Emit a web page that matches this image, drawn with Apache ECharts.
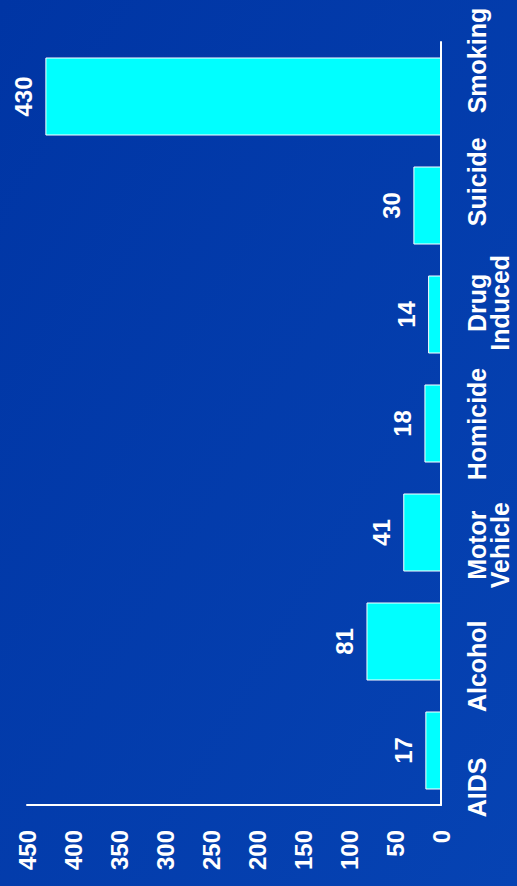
<!DOCTYPE html>
<html>
<head>
<meta charset="utf-8">
<script src="https://cdn.jsdelivr.net/npm/echarts@6/dist/echarts.min.js"></script>
<style>
html,body{margin:0;padding:0;background:#0038a8;}
#chart{width:517px;height:886px;}
</style>
</head>
<body>
<div id="chart"></div>
<script>
var categories = ['AIDS', 'Alcohol', 'Motor\nVehicle', 'Homicide', 'Drug\nInduced', 'Suicide', 'Smoking'];
var deaths = [17, 81, 41, 18, 14, 30, 430];
var valueMin = 0, valueMax = 450, valueStep = 50;

var FONT = "'Liberation Sans', Arial, sans-serif";
var chart = echarts.init(document.getElementById('chart'), null, {renderer: 'svg'});
chart.setOption({
  animation: false,
  backgroundColor: {
    type: 'linear', x: 0, y: 0, x2: 1, y2: 1,
    colorStops: [{offset: 0, color: '#0035a4'}, {offset: 1, color: '#0643b3'}]
  },
  grid: [
    {left: 27, right: 76, top: 42, bottom: 81},
    {left: 27, right: 76, top: 0, height: 848}
  ],
  xAxis: [
    {
      type: 'value', gridIndex: 0, min: valueMin, max: valueMax, interval: valueStep,
      inverse: true, position: 'bottom',
      axisLine: {show: true, lineStyle: {color: '#ffffff', width: 2}},
      axisTick: {show: false},
      splitLine: {show: false},
      axisLabel: {rotate: 90, margin: 25, color: '#ffffff', fontFamily: FONT, fontWeight: 'bold', fontSize: 24}
    },
    {type: 'value', gridIndex: 1, show: false, min: valueMin, max: valueMax, inverse: true}
  ],
  yAxis: [
    {
      type: 'category', gridIndex: 0, data: categories, position: 'right',
      axisLine: {show: true, lineStyle: {color: '#ffffff', width: 2}},
      axisTick: {show: false},
      axisLabel: {show: false}
    },
    {
      type: 'category', gridIndex: 1, data: categories, position: 'right',
      axisLine: {show: false}, axisTick: {show: false},
      axisLabel: {interval: 0, rotate: 90, margin: 24, color: '#ffffff', fontFamily: FONT, fontWeight: 'bold', fontSize: 25, lineHeight: 23}
    }
  ],
  series: [{
    type: 'bar', xAxisIndex: 0, yAxisIndex: 0,
    data: deaths,
    barWidth: 78,
    itemStyle: {color: '#00ffff', borderColor: '#ffffff', borderWidth: 1},
    label: {
      show: true, position: 'left', distance: 10, rotate: 90,
      align: 'center', verticalAlign: 'bottom',
      color: '#ffffff', fontFamily: FONT, fontWeight: 'bold', fontSize: 24
    }
  }]
});
</script>
</body>
</html>
